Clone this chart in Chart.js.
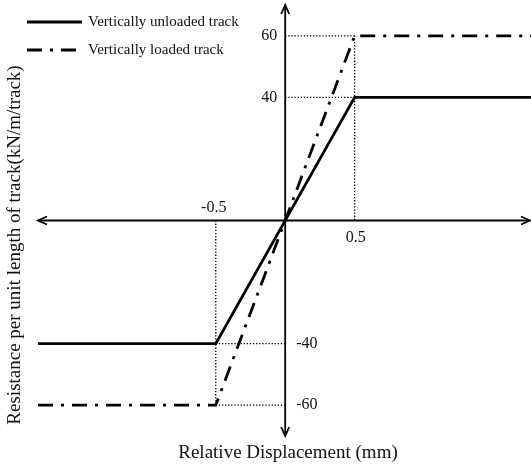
<!DOCTYPE html>
<html>
<head>
<meta charset="utf-8">
<script src="https://cdn.jsdelivr.net/npm/chart.js@4.4.0/dist/chart.umd.min.js"></script>
<style>
  body { margin: 0; background: #fff; }
  #wrap { width: 531px; height: 464px; position: relative; }
</style>
</head>
<body>
<div id="wrap"><canvas id="chart"></canvas></div>
<script>
// data
const seriesNames = ['Vertically unloaded track', 'Vertically loaded track'];
const unloadedX = [-1.78, -0.5, 0.5, 1.77];
const unloadedY = [-40, -40, 40, 40];
const loadedX = [-1.78, -0.5, 0.5, 1.77];
const loadedY = [-60, -60, 60, 60];
const xTickLabels = [-0.5, 0.5];
const yTickLabels = [60, 40, -40, -60];
const xTitle = 'Relative Displacement (mm)';
const yTitle = 'Resistance per unit length of track(kN/m/track)';

const FONT = '"Liberation Serif", "Times New Roman", serif';
const LOADED_DASH = [15, 8, 3, 8];

const toPoints = (xs, ys) => xs.map((x, i) => ({ x: x, y: ys[i] }));

function arrow(ctx, x, y, dir) {
  // small open arrow head, dir in radians
  const L = 9, W = 4;
  ctx.save();
  ctx.translate(x, y);
  ctx.rotate(dir);
  ctx.beginPath();
  ctx.moveTo(-L, -W);
  ctx.lineTo(0, 0);
  ctx.lineTo(-L, W);
  ctx.stroke();
  ctx.restore();
}

// axes through the origin, guides, tick labels, titles and legend
const decor = {
  id: 'decor',
  beforeDatasetsDraw(chart) {
    const { ctx, chartArea: a, scales: { x, y } } = chart;
    const x0 = x.getPixelForValue(0), y0 = y.getPixelForValue(0);
    ctx.save();
    ctx.strokeStyle = '#000';

    // dotted guide lines
    ctx.lineWidth = 1.3;
    ctx.setLineDash([1.3, 1.8]);
    const xp = x.getPixelForValue(0.5), xn = x.getPixelForValue(-0.5);
    const guides = [
      [x0, y.getPixelForValue(60), xp, y.getPixelForValue(60)],
      [x0, y.getPixelForValue(40), xp, y.getPixelForValue(40)],
      [xp, y.getPixelForValue(60), xp, y0],
      [xn, y0, xn, y.getPixelForValue(-60)],
      [xn, y.getPixelForValue(-40), x0, y.getPixelForValue(-40)],
      [xn, y.getPixelForValue(-60), x0, y.getPixelForValue(-60)]
    ];
    guides.forEach(g => {
      ctx.beginPath();
      ctx.moveTo(g[0], g[1]);
      ctx.lineTo(g[2], g[3]);
      ctx.stroke();
    });

    // axes with arrows at both ends
    ctx.setLineDash([]);
    ctx.lineWidth = 1.8;
    ctx.beginPath();
    ctx.moveTo(a.left, y0); ctx.lineTo(a.right - 1, y0);
    ctx.moveTo(x0, a.top); ctx.lineTo(x0, a.bottom);
    ctx.stroke();
    arrow(ctx, a.left, y0, Math.PI);
    arrow(ctx, a.right - 1, y0, 0);
    arrow(ctx, x0, a.top, -Math.PI / 2);
    arrow(ctx, x0, a.bottom, Math.PI / 2);

    // tick labels
    ctx.fillStyle = '#111';
    ctx.font = '16px ' + FONT;
    ctx.textBaseline = 'middle';
    yTickLabels.forEach(v => {
      const py = y.getPixelForValue(v);
      if (v > 0) { ctx.textAlign = 'right'; ctx.fillText(String(v), x0 - 8, py); }
      else { ctx.textAlign = 'left'; ctx.fillText(String(v), x0 + 11, py); }
    });
    ctx.textAlign = 'center';
    xTickLabels.forEach(v => {
      const px = x.getPixelForValue(v);
      if (v < 0) ctx.fillText(String(v), px - 2, y0 - 13);
      else ctx.fillText(String(v), px + 1, y0 + 17);
    });

    // axis titles
    ctx.font = '19px ' + FONT;
    ctx.textAlign = 'center';
    ctx.fillText(xTitle, 288, 453);
    ctx.save();
    ctx.translate(15, 245);
    ctx.rotate(-Math.PI / 2);
    ctx.fillText(yTitle, 0, 0);
    ctx.restore();

    // legend
    const ds = chart.data.datasets;
    ctx.font = '15px ' + FONT;
    ctx.textAlign = 'left';
    [22, 50].forEach((ly, i) => {
      ctx.save();
      ctx.lineWidth = ds[i].borderWidth;
      ctx.setLineDash(ds[i].borderDash || []);
      ctx.beginPath();
      ctx.moveTo(27, ly); ctx.lineTo(82, ly);
      ctx.stroke();
      ctx.restore();
      ctx.fillText(ds[i].label, 88, ly);
    });
    ctx.restore();
  }
};

new Chart(document.getElementById('chart'), {
  type: 'line',
  data: {
    datasets: [
      {
        label: seriesNames[0],
        data: toPoints(unloadedX, unloadedY),
        borderColor: '#000',
        borderWidth: 2.8,
        pointRadius: 0,
        tension: 0
      },
      {
        label: seriesNames[1],
        data: toPoints(loadedX, loadedY),
        borderColor: '#000',
        borderWidth: 2.8,
        borderDash: LOADED_DASH,
        pointRadius: 0,
        tension: 0
      }
    ]
  },
  options: {
    responsive: true,
    maintainAspectRatio: false,
    animation: false,
    layout: { padding: { left: 38, right: 0, top: 5, bottom: 28 } },
    scales: {
      x: { type: 'linear', min: -1.78, max: 1.77, display: false },
      y: { type: 'linear', min: -70, max: 70, display: false }
    },
    plugins: {
      legend: { display: false },
      tooltip: { enabled: false }
    }
  },
  plugins: [decor]
});
</script>
</body>
</html>
